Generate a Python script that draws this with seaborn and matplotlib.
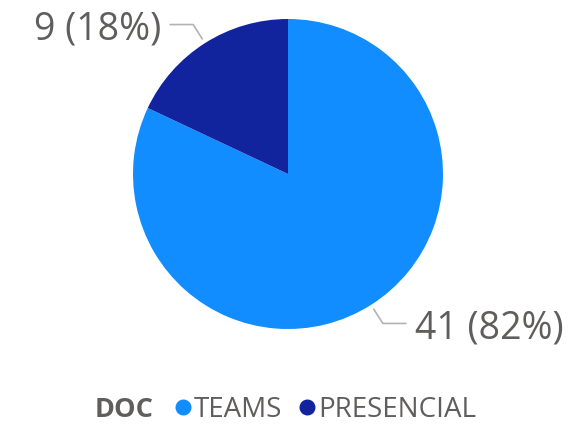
import numpy as np
import seaborn as sns
import matplotlib.pyplot as plt
from matplotlib.lines import Line2D

# --- DATA ---
categories = ["TEAMS", "PRESENCIAL"]
counts = [41, 9]
legend_title = "DOC"

# --- STYLE ---
COLORS = ["#118DFF", "#12239E"]
TEXT_COLOR = "#605E5C"
LINE_COLOR = "#B3B3B3"

sns.set_theme(style="white")
plt.rcParams["font.family"] = ["Open Sans", "DejaVu Sans"]

W, H = 570, 424
fig = plt.figure(figsize=(W / 100, H / 100), dpi=100)
ax = fig.add_axes([0, 0, 1, 1])

cx, cy, r = 288, H - 174, 155
wedges, _ = ax.pie(
    counts,
    colors=COLORS,
    startangle=90,
    counterclock=False,
    center=(cx, cy),
    radius=r,
    frame=True,
    wedgeprops=dict(linewidth=0),
)
ax.set_xlim(0, W)
ax.set_ylim(0, H)
ax.set_aspect("equal")
ax.axis("off")

# data labels with elbow leader lines
total = sum(counts)
for w, n in zip(wedges, counts):
    mid = np.deg2rad((w.theta1 + w.theta2) / 2)
    p0 = (cx + (r + 5) * np.cos(mid), cy + (r + 5) * np.sin(mid))
    p1 = (cx + (r + 22) * np.cos(mid), cy + (r + 22) * np.sin(mid))
    side = 1 if np.cos(mid) >= 0 else -1
    p2 = (p1[0] + side * 23, p1[1])
    ax.plot([p0[0], p1[0], p2[0]], [p0[1], p1[1], p2[1]], color=LINE_COLOR, lw=1.2)
    ax.text(
        p2[0] + side * 9,
        p2[1] - 5,
        f"{n} ({n / total:.0%})",
        ha="left" if side > 0 else "right",
        va="center",
        fontsize=27,
        color=TEXT_COLOR,
    )

# legend
fig.text(95 / W, 1 - 410 / H, legend_title, fontsize=19.5, fontweight="bold",
         color=TEXT_COLOR, ha="left", va="center")
handles = [
    Line2D([], [], marker="o", ls="", markersize=10.5, color=c) for c in COLORS
]
leg = fig.legend(
    handles,
    categories,
    loc="center left",
    bbox_to_anchor=(176 / W, 1 - 410 / H),
    ncol=2,
    frameon=False,
    fontsize=20,
    handlelength=0.5,
    handletextpad=0.15,
    columnspacing=0.65,
    borderpad=0,
    borderaxespad=0,
)
for t in leg.get_texts():
    t.set_color(TEXT_COLOR)

fig.savefig("out.png", dpi=100)
